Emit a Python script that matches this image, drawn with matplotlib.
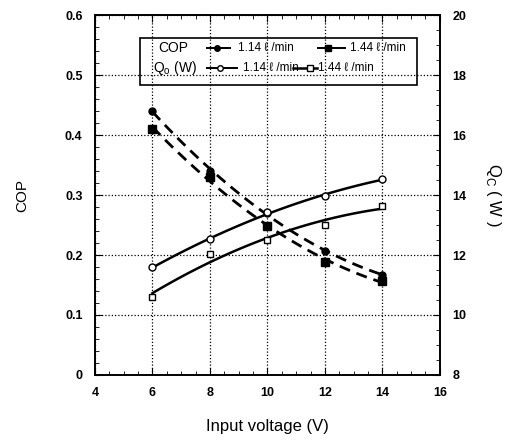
import numpy as np
import matplotlib
matplotlib.use("Agg")
import matplotlib.pyplot as plt
from matplotlib.lines import Line2D
from matplotlib.patches import Rectangle
from matplotlib.ticker import MultipleLocator

plt.rcParams['font.family'] = ['Liberation Sans', 'DejaVu Sans']

voltage = [6, 8, 10, 12, 14]
cop_114 = [0.44, 0.34, 0.27, 0.207, 0.167]
cop_144 = [0.41, 0.33, 0.248, 0.188, 0.157]
qc_114 = [11.59, 12.52, 13.42, 13.98, 14.52]
qc_144 = [10.61, 12.02, 12.50, 13.00, 13.64]

fig = plt.figure(figsize=(5.15, 4.42), dpi=100)
ax = fig.add_axes([0.1845, 0.1516, 0.6695, 0.8144])
ax2 = ax.twinx()

ax.set_xlim(4, 16)
ax.set_ylim(0, 0.6)
ax2.set_ylim(8, 20)

# grid
ax.grid(True, which='major', linestyle=(0, (1.0, 1.6)), color='black', linewidth=0.9)
ax.set_axisbelow(True)

xs = np.linspace(6, 14, 100)

def fit(x, y, deg=2):
    c = np.polyfit(x, y, deg)
    return np.polyval(c, xs)

ax.plot(xs, fit(voltage, cop_114), linestyle=(0, (4, 2.5)), color='black', lw=2.0)
ax.plot(xs, fit(voltage, cop_144), linestyle=(0, (4, 2.5)), color='black', lw=2.0)
ax.plot(voltage, cop_114, 'o', color='black', ms=5)
ax.plot(voltage, cop_144, 's', color='black', ms=5.5)

ax2.plot(xs, fit(voltage, qc_114), '-', color='black', lw=1.8)
ax2.plot(xs, fit(voltage, qc_144), '-', color='black', lw=1.8)
ax2.plot(voltage, qc_114, 'o', mfc='white', mec='black', mew=1.0, ms=5)
ax2.plot(voltage, qc_144, 's', mfc='white', mec='black', mew=1.0, ms=5)

# ticks
ax.xaxis.set_major_locator(MultipleLocator(2))
ax.xaxis.set_minor_locator(MultipleLocator(0.5))
ax.yaxis.set_major_locator(MultipleLocator(0.1))
ax.yaxis.set_minor_locator(MultipleLocator(0.02))
ax2.yaxis.set_major_locator(MultipleLocator(2))
ax2.yaxis.set_minor_locator(MultipleLocator(0.5))
ax.tick_params(axis='both', which='both', direction='in', top=True)
ax.tick_params(axis='x', which='major', length=5, pad=9)
ax.tick_params(axis='y', which='major', length=5, pad=9)
ax.tick_params(which='minor', length=3)
ax2.tick_params(axis='y', which='both', direction='in', pad=9)
ax2.tick_params(axis='y', which='major', length=5)
ax2.tick_params(axis='y', which='minor', length=3)
ax.set_xticks([4, 6, 8, 10, 12, 14, 16])
ax.set_xticklabels(['4', '6', '8', '10', '12', '14', '16'], fontweight='bold')
ax.set_yticklabels(['0' if abs(v) < 1e-9 else f'{v:.1f}' for v in ax.get_yticks()], fontweight='bold')
ax2.set_yticklabels([f'{int(v)}' for v in ax2.get_yticks()], fontweight='bold')
for lab in ax.get_xticklabels() + ax.get_yticklabels() + ax2.get_yticklabels():
    lab.set_fontsize(9)
for sp in list(ax.spines.values()) + list(ax2.spines.values()):
    sp.set_linewidth(1.2)

ax.set_xlabel('Input voltage (V)', fontsize=12, labelpad=14)
ax.set_ylabel('COP', fontsize=11, labelpad=26)
ax2.set_ylabel('Q$_\\mathregular{C}$ ( W )', fontsize=12, rotation=270, labelpad=26)

# legend (manual)
T = ax.transAxes
ax.add_patch(Rectangle((0.13, 0.806), 0.803, 0.130, transform=T, fill=False,
                       edgecolor='black', lw=1.2, zorder=5, clip_on=False))
fs = 10
fs2 = 8.5
r1, r2 = 0.9075, 0.8536
ax.text(0.182, r1, 'COP', transform=T, fontsize=fs, va='center', zorder=6)
ax.add_line(Line2D([0.324, 0.391], [r1, r1], transform=T, color='black', lw=1.4, zorder=6))
ax.add_line(Line2D([0.354], [r1], transform=T, marker='o', color='black', ms=4, zorder=6))
ax.text(0.414, r1, '1.14 ℓ /min', transform=T, fontsize=fs2, va='center', zorder=6)
ax.add_line(Line2D([0.646, 0.725], [r1, r1], transform=T, color='black', lw=1.4, zorder=6))
ax.add_line(Line2D([0.676], [r1], transform=T, marker='s', color='black', ms=4.5, zorder=6))
ax.text(0.739, r1, '1.44 ℓ /min', transform=T, fontsize=fs2, va='center', zorder=6)

ax.text(0.168, r2, 'Q$_\\mathregular{o}$ (W)', transform=T, fontsize=fs, va='center', zorder=6)
ax.add_line(Line2D([0.324, 0.412], [r2, r2], transform=T, color='black', lw=1.4, zorder=6))
ax.add_line(Line2D([0.362], [r2], transform=T, marker='o', mfc='white', mec='black', ms=4, zorder=6))
ax.text(0.43, r2, '1.14 ℓ /min', transform=T, fontsize=fs2, va='center', zorder=6)
ax.add_line(Line2D([0.574, 0.643], [r2, r2], transform=T, color='black', lw=1.8, zorder=6))
ax.add_line(Line2D([0.623], [r2], transform=T, marker='s', mfc='white', mec='black', ms=4, zorder=6))
ax.text(0.647, r2, '1.44 ℓ /min', transform=T, fontsize=fs2, va='center', zorder=6)

fig.savefig('out.png', dpi=100)
